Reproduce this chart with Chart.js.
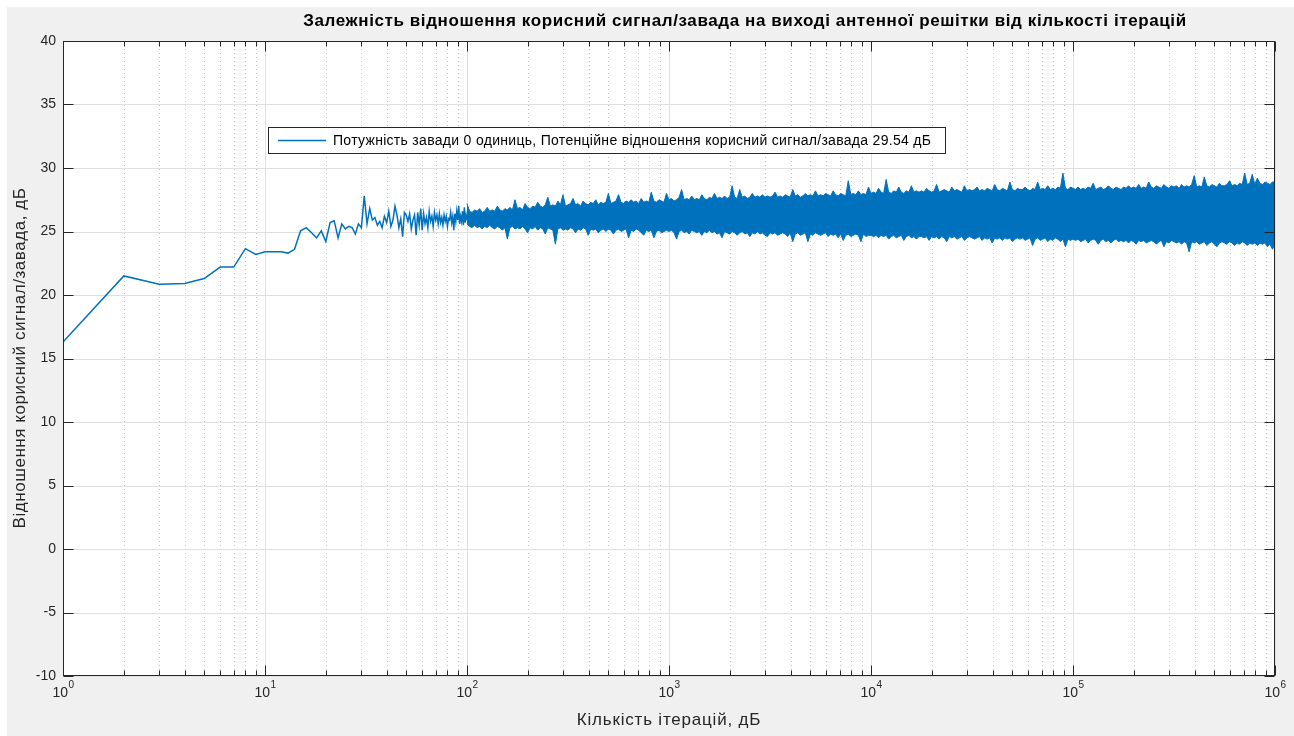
<!DOCTYPE html>
<html>
<head>
<meta charset="utf-8">
<script src="https://cdn.jsdelivr.net/npm/chart.js@4"></script>
<style>
  html, body { margin: 0; padding: 0; background: #fff; }
  #wrap { position: absolute; left: 0; top: 0; width: 1294px; height: 736px; }
</style>
</head>
<body>
<div id="wrap"><canvas id="chart1"></canvas></div>
<script>
// SNR for iterations 1..100
const earlyY = [
  16.3, 21.5, 20.85, 20.9, 21.3, 22.2, 22.2, 23.65, 23.2, 23.4,
  23.4, 23.4, 23.3, 23.6, 25.05, 25.3, 24.9, 24.5, 25.05, 24.2,
  25.7, 25.85, 24.5, 25.6, 25.2, 25.4, 25.3, 24.8, 25.6, 25.3,
  27.8, 25.6, 26.8, 25.9, 26.1, 25.5, 25.8, 25.3, 26.2, 25.7,
  26.6, 25.4, 25.9, 27.0, 26.3, 25.3, 26.0, 24.6, 26.5, 26.3,
  25.8, 26.4, 25.2, 25.9, 26.3, 24.7, 26.5, 25.5, 26.8, 25.1,
  26.4, 25.6, 26.1, 25.3, 26.6, 25.8, 26.2, 25.4, 26.5, 25.9,
  26.3, 25.6, 26.4, 25.7, 26.1, 25.5, 26.3, 25.8, 26.2, 25.4,
  26.0, 25.9, 26.5, 25.7, 26.2, 25.1, 26.4, 25.8, 26.6, 25.9,
  27.0, 25.6, 26.2, 25.8, 26.6, 25.5, 26.9, 25.7, 26.3, 25.9
];

// above 100 iterations the trace is a solid band: its upper and lower edges,
// sampled 80 times per decade from 10^2 to 10^6
const bandPerDecade = 80;
const bandUpper = [
  27.2, 26.6, 26.5, 26.7, 26.6, 26.8, 26.5, 26.6, 26.9, 26.6, 26.7, 26.6, 27.0, 26.7, 26.6, 26.8, 26.7, 26.9, 26.7, 27.5,
  26.8, 26.9, 26.7, 27.2, 26.9, 26.8, 27.0, 26.9, 27.3, 27.0, 26.9, 27.1, 27.7, 27.0, 27.1, 27.0, 27.4, 27.1, 27.9, 27.0,
  27.1, 27.2, 27.6, 27.1, 27.2, 27.0, 27.4, 27.2, 27.1, 27.3, 27.2, 27.5, 27.1, 27.3, 27.2, 27.3, 28.0, 27.2, 27.3, 27.4,
  27.9, 27.3, 27.2, 27.4, 27.3, 27.5, 27.3, 27.4, 27.2, 27.6, 27.3, 27.4, 27.3, 28.1, 27.4, 27.3, 27.5, 27.4, 27.3, 28.0,
  27.5, 27.6, 27.4, 27.5, 27.7, 28.3, 27.5, 27.6, 27.5, 27.8, 27.5, 27.6, 27.5, 27.9, 27.6, 27.5, 27.7, 27.6, 28.0, 27.6,
  27.7, 27.6, 27.8, 27.6, 27.7, 28.6, 27.7, 27.6, 28.3, 27.7, 27.8, 27.6, 27.7, 28.0, 27.7, 27.8, 27.7, 27.9, 27.7, 27.8,
  27.7, 27.8, 28.1, 27.7, 27.8, 27.7, 27.9, 27.8, 27.7, 28.3, 27.8, 27.9, 27.7, 27.8, 28.0, 27.8, 27.9, 27.8, 28.2, 27.8,
  27.9, 27.8, 28.0, 27.9, 27.8, 28.2, 27.9, 27.8, 28.0, 27.9, 27.8, 29.0, 27.9, 28.0, 27.9, 28.2, 27.9, 28.0, 27.9, 28.5,
  28.0, 28.1, 28.0, 28.4, 28.1, 28.0, 29.1, 28.1, 28.0, 28.2, 28.1, 28.5, 28.1, 28.0, 28.2, 28.1, 28.6, 28.1, 28.2, 28.1,
  28.2, 28.1, 28.4, 28.2, 28.1, 28.2, 28.7, 28.1, 28.2, 28.3, 28.2, 28.1, 28.5, 28.2, 28.3, 28.2, 28.1, 28.6, 28.2, 28.3,
  28.2, 28.3, 28.5, 28.2, 28.3, 28.2, 28.4, 28.3, 28.2, 28.7, 28.3, 28.2, 28.4, 28.3, 28.2, 28.9, 28.3, 28.2, 28.4, 28.3,
  28.3, 28.5, 28.3, 28.2, 28.4, 28.3, 28.9, 28.3, 28.4, 28.3, 28.6, 28.3, 28.4, 28.3, 28.5, 28.4, 29.6, 28.4, 28.3, 28.5,
  28.4, 28.3, 28.5, 28.3, 28.4, 28.3, 28.5, 28.4, 28.8, 28.3, 28.4, 28.5, 28.3, 28.4, 28.6, 28.4, 28.3, 28.5, 28.4, 28.3,
  28.5, 28.4, 28.6, 28.4, 28.5, 28.4, 28.7, 28.4, 28.5, 28.4, 28.9, 28.5, 28.4, 28.6, 28.5, 28.4, 28.7, 28.5, 28.4, 28.6,
  28.5, 28.6, 28.4, 28.7, 28.5, 28.6, 28.5, 28.7, 29.4, 28.5, 28.6, 28.5, 29.3, 28.6, 28.5, 28.7, 28.6, 28.5, 28.8, 28.6,
  28.6, 28.7, 29.0, 28.6, 28.7, 28.6, 28.8, 28.7, 29.6, 28.7, 28.8, 29.5, 28.7, 29.2, 28.8, 28.7, 28.9, 28.8, 28.7, 28.9,
  28.9
];
const bandLower = [
  25.6, 25.4, 25.3, 25.5, 25.3, 25.4, 25.2, 25.4, 25.3, 25.5, 25.3, 25.2, 25.4, 25.3, 25.1, 25.3, 24.4, 25.3, 25.4, 25.2,
  25.3, 25.2, 25.4, 25.2, 24.9, 25.3, 25.2, 25.4, 25.1, 25.3, 25.2, 24.8, 25.3, 25.2, 25.1, 24.0, 25.2, 25.3, 25.1, 25.2,
  25.1, 25.3, 25.2, 24.9, 25.2, 25.1, 25.3, 25.2, 24.7, 25.2, 25.1, 25.2, 24.9, 25.1, 25.2, 25.0, 25.2, 25.1, 24.8, 25.1,
  25.2, 25.0, 25.1, 25.2, 24.5, 25.1, 25.0, 25.2, 25.1, 24.9, 24.7, 25.1, 25.0, 25.1, 24.5, 25.0, 25.1, 24.9, 25.0, 25.1,
  25.0, 25.1, 24.9, 24.4, 25.0, 25.1, 24.9, 25.0, 24.8, 25.1, 25.0, 24.9, 25.0, 24.7, 25.0, 24.9, 25.1, 24.9, 25.0, 24.8,
  24.9, 24.5, 25.0, 24.9, 24.8, 25.0, 24.9, 24.7, 24.9, 25.0, 24.8, 24.9, 24.6, 24.9, 24.8, 25.0, 24.8, 24.9, 24.7, 24.6,
  24.9, 24.8, 24.9, 24.7, 24.8, 24.9, 24.8, 24.6, 24.9, 24.2, 24.8, 24.9, 24.7, 24.8, 24.9, 24.2, 24.8, 24.7, 24.9, 24.8,
  24.7, 24.8, 24.9, 24.6, 24.8, 24.7, 24.8, 24.5, 24.8, 24.3, 24.7, 24.8, 24.6, 24.7, 24.8, 24.7, 24.2, 24.8, 24.6, 24.7,
  24.7, 24.6, 24.7, 24.5, 24.7, 24.6, 24.7, 24.4, 24.6, 24.7, 24.5, 24.6, 24.7, 24.3, 24.6, 24.7, 24.5, 24.6, 24.4, 24.6,
  24.6, 24.5, 24.6, 24.3, 24.6, 24.5, 24.6, 24.4, 24.6, 24.5, 24.2, 24.6, 24.5, 24.6, 24.4, 24.5, 24.6, 24.3, 24.5, 24.6,
  24.5, 24.4, 24.5, 24.6, 24.3, 24.5, 24.4, 24.5, 24.1, 24.5, 24.4, 24.5, 24.3, 24.5, 24.4, 24.5, 24.2, 24.4, 24.5, 24.4,
  24.5, 24.3, 24.4, 24.5, 23.9, 24.4, 24.5, 24.3, 24.4, 24.5, 24.2, 24.4, 24.3, 24.5, 24.4, 24.2, 24.4, 23.8, 24.4, 24.3,
  24.4, 24.3, 24.4, 24.2, 24.3, 24.4, 24.1, 24.3, 24.4, 24.3, 24.0, 24.3, 24.4, 24.2, 24.3, 24.1, 24.3, 24.4, 24.2, 24.3,
  24.2, 24.3, 24.1, 24.3, 24.2, 24.0, 24.3, 24.2, 24.3, 24.1, 24.2, 24.3, 24.2, 24.0, 24.2, 24.3, 23.8, 24.2, 24.1, 24.3,
  24.2, 24.1, 24.2, 24.0, 24.2, 24.1, 23.4, 24.2, 24.1, 24.2, 24.0, 24.1, 24.2, 23.9, 24.1, 24.2, 24.0, 23.8, 24.1, 24.2,
  24.1, 24.0, 24.2, 24.1, 23.9, 24.1, 24.0, 24.2, 24.1, 23.9, 24.1, 24.0, 24.1, 23.9, 24.1, 24.0, 24.1, 23.8, 24.0, 23.6,
  24.0
];

const yTicks = [-10, -5, 0, 5, 10, 15, 20, 25, 30, 35, 40];
const xDecades = [0, 1, 2, 3, 4, 5, 6];

const titleText = "Залежність відношення корисний сигнал/завада на виході антенної решітки від кількості ітерацій";
const xTitle = "Кількість ітерацій, дБ";
const yTitle = "Відношення корисний сигнал/завада, дБ";
const legendText = "Потужність завади 0 одиниць, Потенційне відношення корисний сигнал/завада 29.54 дБ";

const blue = "#0072BD";
const axisColor = "#262626";
const font = "'Liberation Sans', Arial, Helvetica, sans-serif";

function spaced(ctx, px) {
  if ("letterSpacing" in ctx) ctx.letterSpacing = px + "px";
}

const matlabAxes = {
  id: "matlabAxes",
  beforeDraw(chart) {
    const ctx = chart.ctx;
    ctx.save();
    ctx.fillStyle = "#fff";
    ctx.fillRect(0, 0, chart.width, chart.height);
    ctx.fillStyle = "#f0f0f0";
    ctx.fillRect(7, 7, chart.width - 7, chart.height - 7);
    ctx.restore();
  },
  beforeDatasetsDraw(chart) {
    const { ctx, chartArea: a } = chart;
    const x = chart.scales.x, y = chart.scales.y;
    ctx.save();
    ctx.fillStyle = "#fff";
    ctx.fillRect(a.left, a.top, a.right - a.left, a.bottom - a.top);
    ctx.lineWidth = 1;

    // minor x grid, dotted
    ctx.strokeStyle = "#c4c4c4";
    ctx.setLineDash([1, 3]);
    for (let d = 0; d < 6; d++) {
      for (let m = 2; m <= 9; m++) {
        const px = Math.round(x.getPixelForValue(m * Math.pow(10, d))) + 0.5;
        ctx.beginPath(); ctx.moveTo(px, a.top); ctx.lineTo(px, a.bottom); ctx.stroke();
      }
    }
    ctx.setLineDash([]);

    // major grid
    ctx.strokeStyle = "#dfdfdf";
    xDecades.forEach(d => {
      const px = Math.round(x.getPixelForValue(Math.pow(10, d))) + 0.5;
      ctx.beginPath(); ctx.moveTo(px, a.top); ctx.lineTo(px, a.bottom); ctx.stroke();
    });
    yTicks.forEach(v => {
      const py = Math.round(y.getPixelForValue(v)) + 0.5;
      ctx.beginPath(); ctx.moveTo(a.left, py); ctx.lineTo(a.right, py); ctx.stroke();
    });
    ctx.restore();
  },
  afterDatasetsDraw(chart) {
    const { ctx, chartArea: a } = chart;
    const x = chart.scales.x, y = chart.scales.y;
    ctx.save();
    ctx.strokeStyle = axisColor;
    ctx.lineWidth = 1;
    const L = Math.round(a.left) + 0.5, R = Math.round(a.right) - 0.5;
    const T = Math.round(a.top) + 0.5, B = Math.round(a.bottom) - 0.5;

    // ticks, inward, on all four sides
    ctx.beginPath();
    for (let d = 0; d < 6; d++) {
      for (let m = 2; m <= 9; m++) {
        const px = Math.round(x.getPixelForValue(m * Math.pow(10, d))) + 0.5;
        ctx.moveTo(px, B); ctx.lineTo(px, B - 5);
        ctx.moveTo(px, T); ctx.lineTo(px, T + 5);
      }
    }
    xDecades.forEach(d => {
      const px = Math.round(x.getPixelForValue(Math.pow(10, d))) + 0.5;
      ctx.moveTo(px, B); ctx.lineTo(px, B - 10);
      ctx.moveTo(px, T); ctx.lineTo(px, T + 10);
    });
    yTicks.forEach(v => {
      const py = Math.round(y.getPixelForValue(v)) + 0.5;
      ctx.moveTo(L, py); ctx.lineTo(L + 10, py);
      ctx.moveTo(R, py); ctx.lineTo(R - 10, py);
    });
    ctx.stroke();

    // box
    ctx.strokeRect(L, T, R - L, B - T);

    // y tick labels
    ctx.fillStyle = axisColor;
    ctx.font = "14px " + font;
    ctx.textAlign = "right";
    ctx.textBaseline = "middle";
    yTicks.forEach(v => {
      ctx.fillText(String(v), a.left - 7, y.getPixelForValue(v));
    });

    // x tick labels 10^n
    xDecades.forEach(d => {
      const px = x.getPixelForValue(Math.pow(10, d));
      ctx.font = "14px " + font;
      const w1 = ctx.measureText("10").width;
      ctx.font = "10px " + font;
      const w2 = ctx.measureText(String(d)).width;
      const left = px - (w1 + w2) / 2;
      ctx.textAlign = "left";
      ctx.font = "14px " + font;
      ctx.fillText("10", left, a.bottom + 17);
      ctx.font = "10px " + font;
      ctx.fillText(String(d), left + w1 + 0.5, a.bottom + 9);
    });

    // axis titles
    ctx.font = "17px " + font;
    ctx.textAlign = "center";
    spaced(ctx, 0.8);
    ctx.fillText(xTitle, (a.left + a.right) / 2, 720);
    ctx.save();
    ctx.translate(20, 358);
    ctx.rotate(-Math.PI / 2);
    spaced(ctx, 0.55);
    ctx.fillText(yTitle, 0, 0);
    ctx.restore();

    // title
    ctx.fillStyle = "#000";
    ctx.font = "bold 17px " + font;
    spaced(ctx, 0.6);
    ctx.fillText(titleText, 745, 21);

    // legend
    spaced(ctx, 0.3);
    ctx.fillStyle = "#fff";
    ctx.fillRect(268, 127, 677, 26);
    ctx.strokeStyle = axisColor;
    ctx.strokeRect(268.5, 127.5, 677, 26);
    ctx.strokeStyle = blue;
    ctx.lineWidth = 1.4;
    ctx.beginPath(); ctx.moveTo(278, 140.5); ctx.lineTo(326, 140.5); ctx.stroke();
    ctx.fillStyle = "#000";
    ctx.font = "14px " + font;
    ctx.textAlign = "left";
    ctx.fillText(legendText, 333, 141);
    spaced(ctx, 0);
    ctx.restore();
  }
};

window.onload = () => {
  const earlyData = earlyY.map((v, i) => ({ x: i + 1, y: v }));
  const bandX = bandUpper.map((_, k) => 100 * Math.pow(10, k / bandPerDecade));
  const upperData = bandUpper.map((v, k) => ({ x: bandX[k], y: v }));
  const lowerData = bandLower.map((v, k) => ({ x: bandX[k], y: v }));

  new Chart(document.getElementById("chart1"), {
    type: "line",
    data: {
      datasets: [
        { label: legendText, data: earlyData, borderColor: blue, borderWidth: 1.5,
          pointRadius: 0, tension: 0, fill: false },
        { label: "upper", data: upperData, borderColor: blue, borderWidth: 1,
          pointRadius: 0, tension: 0, fill: false },
        { label: "lower", data: lowerData, borderColor: blue, borderWidth: 1,
          pointRadius: 0, tension: 0, fill: "-1", backgroundColor: blue }
      ]
    },
    options: {
      responsive: true,
      maintainAspectRatio: false,
      animation: false,
      layout: { padding: { left: 63, right: 19, top: 41, bottom: 60 } },
      scales: {
        x: { type: "logarithmic", min: 1, max: 1e6, display: false },
        y: { type: "linear", min: -10, max: 40, display: false }
      },
      plugins: {
        legend: { display: false },
        tooltip: { enabled: false }
      }
    },
    plugins: [matlabAxes]
  });
};
</script>
</body>
</html>
